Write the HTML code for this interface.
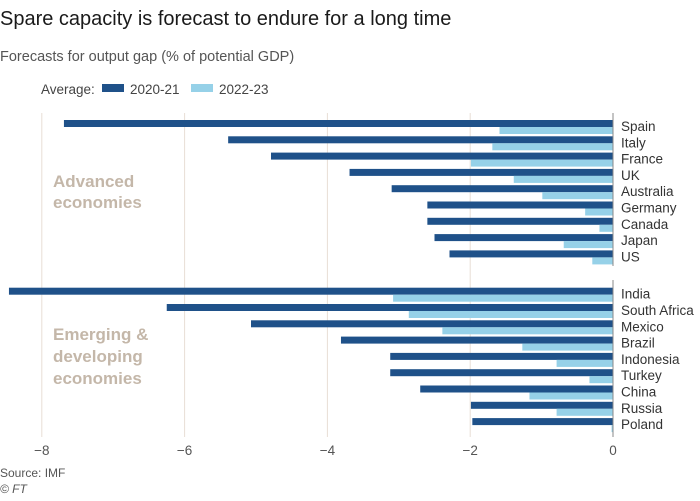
<!DOCTYPE html>
<html><head><meta charset="utf-8"><style>
body{margin:0;background:#fff;font-family:"Liberation Sans",sans-serif;}
svg text{font-family:"Liberation Sans",sans-serif;}
</style></head><body>
<svg id="chart" width="700" height="496" xmlns="http://www.w3.org/2000/svg">
<text x="0" y="25" font-size="20" fill="#1a1a1a">Spare capacity is forecast to endure for a long time</text>
<text x="0" y="61" font-size="14.5" fill="#555">Forecasts for output gap (% of potential GDP)</text>
<g>
<text x="41" y="94" font-size="13.5" fill="#444">Average:</text>
<rect x="102" y="84" width="22" height="8" fill="#1f5189"/>
<text x="130" y="94" font-size="13.5" fill="#444">2020-21</text>
<rect x="191" y="84" width="22" height="8" fill="#96d1e8"/>
<text x="219" y="94" font-size="13.5" fill="#444">2022-23</text>
</g>
<text x="53" y="187" font-size="17" font-weight="bold" fill="#c4b7a9"><tspan x="53">Advanced</tspan><tspan x="53" dy="21">economies</tspan></text>
<text x="53" y="340" font-size="17" font-weight="bold" fill="#c4b7a9"><tspan x="53">Emerging &amp;</tspan><tspan x="53" dy="22">developing</tspan><tspan x="53" dy="22">economies</tspan></text>
<g id="grid"></g><g id="bars"></g><g id="labels"></g>
<text x="0" y="477" font-size="12" fill="#555">Source: IMF</text>
<text x="0" y="493" font-size="12" font-style="italic" fill="#555">© FT</text>
</svg>
<script>
const countries=["Spain","Italy","France","UK","Australia","Germany","Canada","Japan","US","India","South Africa","Mexico","Brazil","Indonesia","Turkey","China","Russia","Poland"];
const avg2020=[-7.69,-5.39,-4.79,-3.69,-3.10,-2.60,-2.60,-2.50,-2.29,-8.46,-6.25,-5.07,-3.81,-3.12,-3.12,-2.70,-1.99,-1.97];
const avg2022=[-1.59,-1.69,-1.99,-1.39,-0.99,-0.39,-0.19,-0.69,-0.29,-3.08,-2.86,-2.39,-1.27,-0.79,-0.33,-1.17,-0.79,-0.02];
const ticks=[-8,-6,-4,-2,0];
const NS="http://www.w3.org/2000/svg";
const x=v=>613+v*71.4;
const y=i=>127+i*16.3+(i>=9?21:0);
function mk(t,a,p){const e=document.createElementNS(NS,t);for(const k in a)e.setAttribute(k,a[k]);p.appendChild(e);return e;}
const g=document.getElementById('grid'),b=document.getElementById('bars'),l=document.getElementById('labels');
ticks.forEach(t=>{
 if(t!==0){const ln=mk('line',{x1:x(t),x2:x(t),y1:113,y2:437,stroke:'#e8ded5','stroke-width':1},g);
 
 }
 const tx=mk('text',{x:x(t),y:455,'font-size':13.5,fill:'#555','text-anchor':'middle'},g);
 tx.textContent=t===0?'0':'\u2212'+Math.abs(t);
 
 
});
countries.forEach((c,i)=>{
 const cy=y(i);
 const r1=mk('rect',{x:x(avg2020[i]),y:cy-7,width:x(0)-x(avg2020[i]),height:7,fill:'#1f5189'},b);
 
 
 const r2=mk('rect',{x:x(avg2022[i]),y:cy,width:x(0)-x(avg2022[i]),height:7,fill:'#96d1e8'},b);
 
 
 const t=mk('text',{x:621,y:cy+4,'font-size':13.5,fill:'#333'},l);
 t.textContent=c;
 
 
});
[[113,266],[280,437]].forEach(s=>{
 const z=mk('line',{x1:x(0),x2:x(0),y1:s[0],y2:s[1],stroke:'#888','stroke-width':1},l);
 
 
});
</script>
</body></html>
